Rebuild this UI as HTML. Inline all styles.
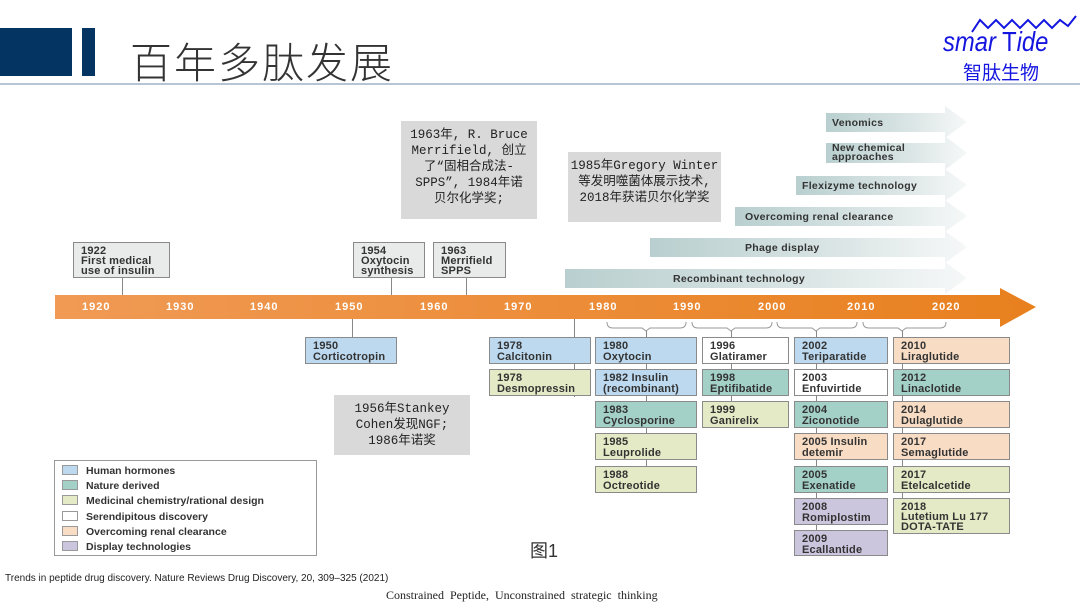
<!DOCTYPE html>
<html><head><meta charset="utf-8">
<style>
body{margin:0;width:1080px;height:603px;background:#fff;position:relative;overflow:hidden;font-family:"Liberation Sans","Noto Sans CJK SC",sans-serif}
.a{position:absolute}
.b{position:absolute;box-sizing:border-box;border:1px solid #8a8a8a;font-size:11px;line-height:11px;color:#333;padding:3px 0 0 7px;font-weight:bold;letter-spacing:0.2px}
.hb{background:#bcd9ef}.nd{background:#a3d0c7}.mc{background:#e4eac5}.sd{background:#fff}.or{background:#f8dcc4}.dt{background:#cbc5de}.gy{background:#e9eaea}
.v{position:absolute;width:1px;background:#888}
.g{position:absolute;background:#d9d9d9;font-family:"Liberation Mono","Noto Sans CJK SC",monospace;font-size:12.5px;line-height:16px;color:#222;text-align:center;box-sizing:border-box}
.yr{position:absolute;top:301px;color:#fff;font-weight:bold;font-size:11px;letter-spacing:1px}
.tl{position:absolute;font-size:10.5px;font-weight:bold;color:#333;letter-spacing:0.3px}
.lg{position:absolute;left:62px;width:16px;height:10px;border:1px solid #999;box-sizing:border-box}
.lt{position:absolute;left:86px;font-size:10.5px;color:#333;font-weight:bold}
</style></head><body>
<div class="a" style="left:0;top:28px;width:72px;height:48px;background:#033462"></div>
<div class="a" style="left:82px;top:28px;width:13px;height:48px;background:#033462"></div>
<div class="a" style="left:130px;top:30px;font-size:42px;color:#333;font-family:'Noto Sans CJK SC',sans-serif;font-weight:300;letter-spacing:2px">百年多肽发展</div>
<div class="a" style="left:0;top:83px;width:1080px;height:2px;background:#b7c4d8"></div>
<svg class="a" style="left:940px;top:12px" width="140" height="30"><path d="M32 20 L40 8 L48 16 L56 8 L64 16 L72 8 L80 16 L88 8 L96 16 L104 8 L112 16 L120 8 L128 14 L136 4" stroke="#1515e0" stroke-width="2" fill="none"/></svg>
<div class="a" style="left:943px;top:26px;font-size:28px;font-style:italic;color:#1515e0;transform:scaleX(0.85);transform-origin:left">smar<span style="font-style:normal"> T</span>ide</div>
<div class="a" style="left:963px;top:58px;font-size:19px;color:#1515e0;font-family:'Noto Sans CJK SC',sans-serif">智肽生物</div>

<div class="g" style="left:401px;top:121px;width:136px;height:98px;padding-top:6px">1963年, R. Bruce<br>Merrifield, 创立<br>了“固相合成法-<br>SPPS”, 1984年诺<br>贝尔化学奖;</div>
<div class="g" style="left:568px;top:152px;width:153px;height:70px;padding-top:6px">1985年Gregory Winter<br>等发明噬菌体展示技术,<br>2018年获诺贝尔化学奖</div>
<div class="g" style="left:334px;top:395px;width:136px;height:60px;padding-top:6px">1956年Stankey<br>Cohen发现NGF;<br>1986年诺奖</div>

<svg class="a" style="left:0;top:0" width="1080" height="603">
<defs><linearGradient id="tg" x1="0" x2="1"><stop offset="0" stop-color="#b9cfcf"/><stop offset="0.6" stop-color="#dbe5e5"/><stop offset="1" stop-color="#f6f8f8"/></linearGradient>
<linearGradient id="og" x1="0" x2="1"><stop offset="0" stop-color="#f09a55"/><stop offset="1" stop-color="#e8801e"/></linearGradient></defs>
<g fill="url(#tg)">
<path d="M826 113 H945 V106 L967 122 L945 138 V132 H826Z"/>
<path d="M826 143 H945 V136 L967 153 L945 170 V163 H826Z"/>
<path d="M796 176 H945 V169 L967 185 L945 201 V195 H796Z"/>
<path d="M735 207 H945 V200 L967 216 L945 232 V226 H735Z"/>
<path d="M650 238 H945 V231 L967 247 L945 263 V257 H650Z"/>
<path d="M565 269 H945 V262 L967 278 L945 294 V288 H565Z"/>
</g>
<path d="M55 295 H1000 V288 L1036 307 L1000 327 V319 H55Z" fill="url(#og)"/>
<g stroke="#999" fill="none" stroke-width="1">
<path d="M607 322 q0 6 6 6 H642 l4 3 l4 -3 H680 q6 0 6 -6"/>
<path d="M692 322 q0 6 6 6 H727 l4 3 l4 -3 H766 q6 0 6 -6"/>
<path d="M777 322 q0 6 6 6 H812 l4 3 l4 -3 H851 q6 0 6 -6"/>
<path d="M863 322 q0 6 6 6 H898 l4 3 l4 -3 H940 q6 0 6 -6"/>
</g>
</svg>
<div class="tl" style="left:832px;top:117px">Venomics</div>
<div class="tl" style="left:832px;top:144px;line-height:9px">New chemical<br>approaches</div>
<div class="tl" style="left:802px;top:180px">Flexizyme technology</div>
<div class="tl" style="left:745px;top:211px">Overcoming renal clearance</div>
<div class="tl" style="left:745px;top:242px">Phage display</div>
<div class="tl" style="left:673px;top:273px">Recombinant technology</div>

<div class="yr" style="left:82px">1920</div><div class="yr" style="left:166px">1930</div><div class="yr" style="left:250px">1940</div><div class="yr" style="left:335px">1950</div><div class="yr" style="left:420px">1960</div><div class="yr" style="left:504px">1970</div><div class="yr" style="left:589px">1980</div><div class="yr" style="left:673px">1990</div><div class="yr" style="left:758px">2000</div><div class="yr" style="left:847px">2010</div><div class="yr" style="left:932px">2020</div>

<div class="v" style="left:122px;top:278px;height:17px"></div>
<div class="v" style="left:391px;top:278px;height:17px"></div>
<div class="v" style="left:466px;top:278px;height:17px"></div>
<div class="v" style="left:352px;top:319px;height:18px"></div>
<div class="v" style="left:574px;top:319px;height:78px"></div>
<div class="v" style="left:646px;top:331px;height:140px"></div>
<div class="v" style="left:731px;top:331px;height:70px"></div>
<div class="v" style="left:816px;top:331px;height:210px"></div>
<div class="v" style="left:902px;top:331px;height:170px"></div>

<div class="b gy" style="left:73px;top:242px;width:97px;height:36px;line-height:10px">1922<br>First medical<br>use of insulin</div>
<div class="b gy" style="left:353px;top:242px;width:72px;height:36px;line-height:10px">1954<br>Oxytocin<br>synthesis</div>
<div class="b gy" style="left:433px;top:242px;width:73px;height:36px;line-height:10px">1963<br>Merrifield<br>SPPS</div>

<div class="b hb" style="left:305px;top:337px;width:92px;height:27px">1950<br>Corticotropin</div>
<div class="b hb" style="left:489px;top:337px;width:102px;height:27px">1978<br>Calcitonin</div>
<div class="b mc" style="left:489px;top:369px;width:102px;height:27px">1978<br>Desmopressin</div>

<div class="b hb" style="left:595px;top:337px;width:102px;height:27px">1980<br>Oxytocin</div>
<div class="b hb" style="left:595px;top:369px;width:102px;height:27px">1982 Insulin<br>(recombinant)</div>
<div class="b nd" style="left:595px;top:401px;width:102px;height:27px">1983<br>Cyclosporine</div>
<div class="b mc" style="left:595px;top:433px;width:102px;height:27px">1985<br>Leuprolide</div>
<div class="b mc" style="left:595px;top:466px;width:102px;height:27px">1988<br>Octreotide</div>

<div class="b sd" style="left:702px;top:337px;width:87px;height:27px">1996<br>Glatiramer</div>
<div class="b nd" style="left:702px;top:369px;width:87px;height:27px">1998<br>Eptifibatide</div>
<div class="b mc" style="left:702px;top:401px;width:87px;height:27px">1999<br>Ganirelix</div>

<div class="b hb" style="left:794px;top:337px;width:94px;height:27px">2002<br>Teriparatide</div>
<div class="b sd" style="left:794px;top:369px;width:94px;height:27px">2003<br>Enfuvirtide</div>
<div class="b nd" style="left:794px;top:401px;width:94px;height:27px">2004<br>Ziconotide</div>
<div class="b or" style="left:794px;top:433px;width:94px;height:27px">2005 Insulin<br>detemir</div>
<div class="b nd" style="left:794px;top:466px;width:94px;height:27px">2005<br>Exenatide</div>
<div class="b dt" style="left:794px;top:498px;width:94px;height:27px">2008<br>Romiplostim</div>
<div class="b dt" style="left:794px;top:530px;width:94px;height:26px">2009<br>Ecallantide</div>

<div class="b or" style="left:893px;top:337px;width:117px;height:27px">2010<br>Liraglutide</div>
<div class="b nd" style="left:893px;top:369px;width:117px;height:27px">2012<br>Linaclotide</div>
<div class="b or" style="left:893px;top:401px;width:117px;height:27px">2014<br>Dulaglutide</div>
<div class="b or" style="left:893px;top:433px;width:117px;height:27px">2017<br>Semaglutide</div>
<div class="b mc" style="left:893px;top:466px;width:117px;height:27px">2017<br>Etelcalcetide</div>
<div class="b mc" style="left:893px;top:498px;width:117px;height:36px;line-height:10px">2018<br>Lutetium Lu 177<br>DOTA-TATE</div>

<div class="a" style="left:54px;top:460px;width:263px;height:96px;border:1px solid #999;box-sizing:border-box"></div>
<div class="lg hb" style="top:465px"></div><div class="lt" style="top:465px">Human hormones</div>
<div class="lg nd" style="top:480px"></div><div class="lt" style="top:480px">Nature derived</div>
<div class="lg mc" style="top:495px"></div><div class="lt" style="top:495px">Medicinal chemistry/rational design</div>
<div class="lg sd" style="top:511px"></div><div class="lt" style="top:511px">Serendipitous discovery</div>
<div class="lg or" style="top:526px"></div><div class="lt" style="top:526px">Overcoming renal clearance</div>
<div class="lg dt" style="top:541px"></div><div class="lt" style="top:541px">Display technologies</div>

<div class="a" style="left:530px;top:537px;font-size:18px;color:#333">图1</div>
<div class="a" style="left:5px;top:573px;font-size:10px;color:#222">Trends in peptide drug discovery. Nature Reviews Drug Discovery, 20, 309–325 (2021)</div>
<div class="a" style="left:386px;top:588px;font-size:12px;color:#222;font-family:'Liberation Serif',serif;word-spacing:3px">Constrained Peptide, Unconstrained strategic thinking</div>
</body></html>
